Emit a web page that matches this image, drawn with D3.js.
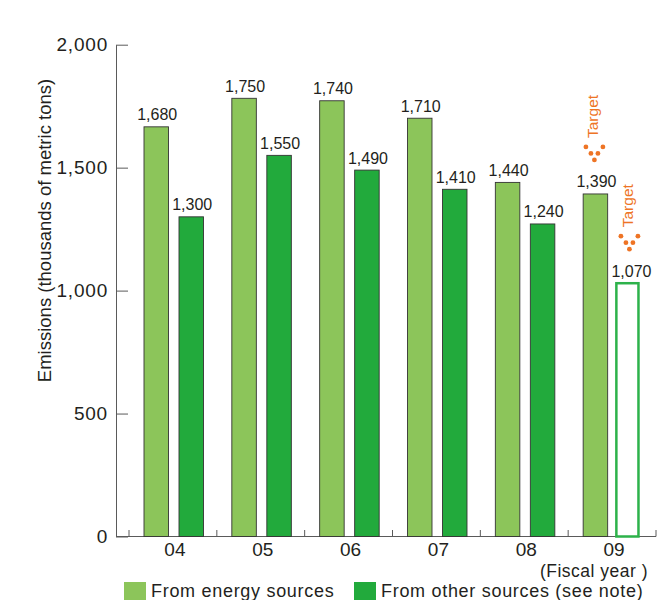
<!DOCTYPE html>
<html>
<head>
<meta charset="utf-8">
<script src="https://cdn.jsdelivr.net/npm/d3@7"></script>
<style>
  body { margin: 0; background: #fff; }
  text { font-family: "Liberation Sans", Arial, sans-serif; fill: #231f20; }
</style>
</head>
<body>
<script>
// values (bar heights) and the printed labels
const years = ["04", "05", "06", "07", "08", "09"];
const energy = [1666, 1782, 1772, 1701, 1440, 1393];
const other = [1300, 1550, 1490, 1412, 1271, 1030];
const energyLabels = ["1,680", "1,750", "1,740", "1,710", "1,440", "1,390"];
const otherLabels = ["1,300", "1,550", "1,490", "1,410", "1,240", "1,070"];
const energyTarget = [false, false, false, false, false, true];
const otherTarget = [false, false, false, false, false, true];
const yTicks = [0, 500, 1000, 1500, 2000];
const seriesNames = ["From energy sources", "From other sources (see note)"];

const W = 669, H = 600;
const lightGreen = "#8cc55a", darkGreen = "#22aa3c", orange = "#ee7425", axisCol = "#5a5a5a";

const svg = d3.select("body").append("svg")
    .attr("width", W)
    .attr("height", H);

let y = d3.scaleLinear().domain([0, 2000]).range([536.5, 44.7]);
let x = d3.scaleBand().domain(years).range([129, 656]);
let xs = d3.scaleBand().domain(["energy", "other"]).range([15, 74.5]).paddingInner(0.3);
const axisX = 116;

// y axis
let yAxis = d3.axisLeft(y)
    .tickValues(yTicks)
    .tickSize(-12)
    .tickSizeOuter(0)
    .tickPadding(8)
    .tickFormat(d3.format(","));

let gy = svg.append("g")
    .attr("transform", "translate(" + axisX + ",0)")
    .call(yAxis);
gy.select(".domain").attr("stroke", axisCol);
gy.selectAll(".tick line").attr("stroke", axisCol);
gy.selectAll(".tick text")
    .style("font-size", "19px")
    .style("letter-spacing", "0.8px")
    .attr("fill", "#231f20");

// x axis
svg.append("line")
    .attr("x1", axisX).attr("x2", x.range()[1])
    .attr("y1", y(0)).attr("y2", y(0))
    .attr("stroke", axisCol);

let edges = years.map(d => x(d)).concat([x.range()[1]]);
svg.selectAll(".xtick")
    .data(edges)
    .enter()
    .append("line")
        .attr("class", "xtick")
        .attr("x1", d => d).attr("x2", d => d)
        .attr("y1", y(0)).attr("y2", y(0) - 6.5)
        .attr("stroke", axisCol);

let gx = svg.append("g")
    .attr("transform", "translate(2," + y(0) + ")")
    .call(d3.axisBottom(x).tickSize(0).tickPadding(6));
gx.select(".domain").remove();
gx.selectAll(".tick text")
    .style("font-size", "19px")
    .attr("fill", "#231f20");

// axis titles
svg.append("text")
    .attr("transform", "translate(51," + 230.5 + ") rotate(-90)")
    .style("text-anchor", "middle")
    .style("font-size", "18.5px")
    .text("Emissions (thousands of metric tons)");

svg.append("text")
    .attr("x", 648)
    .attr("y", 576.5)
    .style("text-anchor", "end")
    .style("font-size", "17.5px")
    .style("letter-spacing", "0.5px")
    .text("(Fiscal year )");

// bars
function drawSeries(key, values, labels, targetFlags, fill, hollow) {
    let rows = years.map((yr, i) => ({year: yr, v: values[i], label: labels[i], target: targetFlags[i]}));
    let cx = d => x(d.year) + xs(key) + xs.bandwidth() / 2;

    svg.selectAll(".bar-" + key)
        .data(rows)
        .enter()
        .append("rect")
            .attr("class", "bar-" + key)
            .attr("x", d => x(d.year) + xs(key) + (hollow(d) ? 1.2 : 0) - (hollow(d) ? 3 : 0))
            .attr("y", d => y(d.v))
            .attr("width", d => xs.bandwidth() - (hollow(d) ? 2.4 : 0))
            .attr("height", d => y(0) - y(d.v))
            .attr("fill", d => hollow(d) ? "#fff" : fill)
            .attr("stroke", d => hollow(d) ? "#2db24a" : "#333")
            .attr("stroke-width", d => hollow(d) ? 2.5 : 0.9);

    svg.selectAll(".lbl-" + key)
        .data(rows)
        .enter()
        .append("text")
            .attr("class", "lbl-" + key)
            .attr("x", d => cx(d) + 1)
            .attr("y", d => y(d.v) - 6.5)
            .style("text-anchor", "middle")
            .style("font-size", "16px")
            .text(d => d.label);

    // "Target" marker: dotted arrow with rotated word
    let marks = rows.filter(d => d.target);
    let dots = [[-8.5, -13], [8.5, -13], [-3.5, -6.5], [3.5, -6.5], [0, 0]];
    marks.forEach(d => {
        let bx = cx(d) - 1, by = y(d.v) - 34;
        svg.selectAll(null)
            .data(dots)
            .enter()
            .append("circle")
                .attr("cx", p => bx + p[0])
                .attr("cy", p => by + p[1])
                .attr("r", 2.4)
                .attr("fill", orange);
        svg.append("text")
            .attr("transform", "translate(" + (bx + 3.5) + "," + (by - 43.5) + ") rotate(-90)")
            .style("text-anchor", "middle")
            .style("font-size", "15.5px")
            .style("fill", orange)
            .text("Target");
    });
}

drawSeries("energy", energy, energyLabels, energyTarget, lightGreen, d => false);
drawSeries("other", other, otherLabels, otherTarget, darkGreen, d => d.target);

// legend
let legend = svg.append("g");
let legendX = [124, 354];
seriesNames.forEach((name, i) => {
    legend.append("rect")
        .attr("x", legendX[i]).attr("y", 582)
        .attr("width", 22).attr("height", 18)
        .attr("fill", i === 0 ? lightGreen : darkGreen);
    legend.append("text")
        .attr("x", legendX[i] + 27)
        .attr("y", 596.5)
        .style("font-size", "18px")
        .style("letter-spacing", "0.7px")
        .text(name);
});
</script>
</body>
</html>
